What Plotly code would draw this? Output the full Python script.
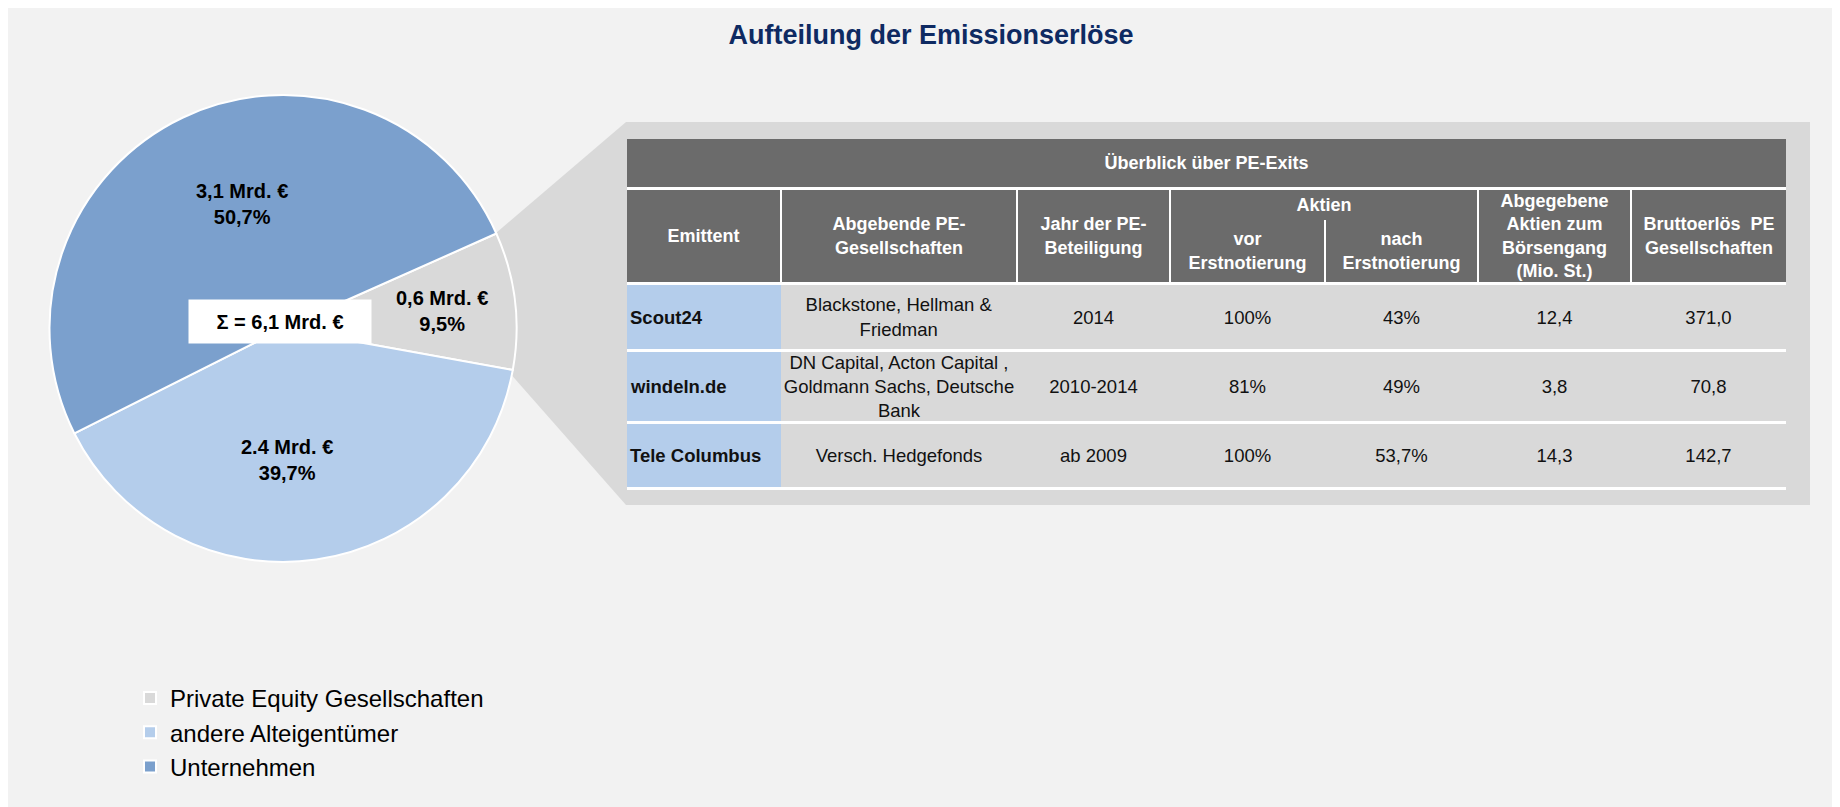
import numpy as np
import plotly.graph_objects as go

# ---- Daten ----
slice_labels = ["Private Equity Gesellschaften", "andere Alteigentümer", "Unternehmen"]
slice_shares = [9.5, 39.7, 50.7]
slice_amounts = ["0,6 Mrd. €", "2.4 Mrd. €", "3,1 Mrd. €"]
total_text = "Σ = 6,1 Mrd. €"

table_title = "Überblick über PE-Exits"
group_header = "Aktien"
headers = ["Emittent", "Abgebende PE-<br>Gesellschaften", "Jahr der PE-<br>Beteiligung",
           "vor<br>Erstnotierung", "nach<br>Erstnotierung",
           "Abgegebene<br>Aktien zum<br>Börsengang<br>(Mio. St.)", "Bruttoerlös  PE<br>Gesellschaften"]
emittent = ["Scout24", "windeln.de", "Tele Columbus"]
pe_gesellschaften = ["Blackstone, Hellman &<br>Friedman",
                     "DN Capital, Acton Capital ,<br>Goldmann Sachs, Deutsche<br>Bank",
                     "Versch. Hedgefonds"]
jahr = ["2014", "2010-2014", "ab 2009"]
aktien_vor = ["100%", "81%", "100%"]
aktien_nach = ["43%", "49%", "53,7%"]
abgegeben = ["12,4", "3,8", "14,3"]
bruttoerloes = ["371,0", "70,8", "142,7"]
body_columns = [emittent, pe_gesellschaften, jahr, aktien_vor, aktien_nach, abgegeben, bruttoerloes]

# ---- Stil ----
W, H = 1840, 807
FONT = "Arial, Liberation Sans, sans-serif"
bg_color = "#F2F2F2"
panel_color = "#D9D9D9"
head_color = "#6B6B6B"
dark_blue = "#7BA0CD"
light_blue = "#B4CDEB"
navy = "#0E2A62"
slice_colors = [panel_color, light_blue, dark_blue]
label_pos = [(434, 303), (279, 452), (234, 196)]  # Beschriftung der Tortenstücke (px)

col_w = [154, 236, 153, 155, 153, 153, 155]
title_h, header_h, group_h, sep, vsep = 48, 92, 30, 3, 2
row_h = [64, 69, 63]


def fx(px):
    return px / W


def fy(py):
    return 1 - py / H


fig = go.Figure()

# Torte
fig.add_trace(go.Pie(
    labels=slice_labels, values=slice_shares,
    sort=False, direction="clockwise", rotation=66,
    marker=dict(colors=slice_colors, line=dict(color="white", width=2)),
    textinfo="none",
    domain=dict(x=[fx(275 - 233.5), fx(275 + 233.5)], y=[fy(320.5 + 233.5), fy(320.5 - 233.5)]),
    hoverinfo="skip", showlegend=True,
))

pie_labels = [f"{a}<br>{str(s).replace('.', ',')}%" for a, s in zip(slice_amounts, slice_shares)]

# Tabelle als Balken auf versteckten Achsen (Einheit = Pixel)
edges = np.concatenate([[0], np.cumsum(col_w)])
total_w = int(edges[-1])
ncol = len(col_w)

# Titelzeile
fig.add_trace(go.Bar(
    orientation="h", y=[title_h / 2], x=[total_w], base=[0], width=[title_h],
    text=[table_title], marker=dict(color=head_color, line=dict(width=0)),
    insidetextanchor="middle",
    textfont=dict(family=FONT, size=18, color="white", weight="bold"),
))

# Kopfzeile
head_top = title_h + sep
head_y, head_x, head_base, head_wd = [], [], [], []
for j in range(ncol):
    left = edges[j] + (vsep / 2 if j > 0 else 0)
    right = edges[j + 1] - (vsep / 2 if j < ncol - 1 else 0)
    top = head_top + (group_h if j in (3, 4) else 0)
    bottom = head_top + header_h
    head_y.append((top + bottom) / 2)
    head_wd.append(bottom - top)
    head_base.append(left)
    head_x.append(right - left)
g_left = edges[3] + vsep / 2
g_right = edges[5] - vsep / 2
head_y.append(head_top + group_h / 2)
head_wd.append(group_h)
head_base.append(g_left)
head_x.append(g_right - g_left)

fig.add_trace(go.Bar(
    orientation="h", y=head_y, x=head_x, base=head_base, width=head_wd,
    text=headers + [group_header], marker=dict(color=head_color, line=dict(width=0)),
    insidetextanchor="middle",
    textfont=dict(family=FONT, size=18, color="white", weight="bold"),
))

# Tabellenkörper
row_tops = []
t = head_top + header_h + sep
for h in row_h:
    row_tops.append(t)
    t += h + sep
row_centers = [rt + h / 2 for rt, h in zip(row_tops, row_h)]

for j, col in enumerate(body_columns):
    first = j == 0
    fig.add_trace(go.Bar(
        orientation="h", y=row_centers, x=[col_w[j]] * len(col), base=[edges[j]] * len(col),
        width=row_h, text=col,
        marker=dict(color=light_blue if first else panel_color, line=dict(width=0)),
        insidetextanchor="start" if first else "middle",
        textfont=dict(family=FONT, size=18.5, color="#111111", weight="bold" if first else "normal"),
    ))

fig.update_traces(selector=dict(type="bar"), textposition="inside", textangle=0,
                  constraintext="none", hoverinfo="skip", showlegend=False, cliponaxis=False)

annotations = [
    dict(text=txt, x=fx(px), y=fy(py), xref="paper", yref="paper", showarrow=False,
         xanchor="center", yanchor="middle",
         font=dict(family=FONT, size=20, color="black", weight="bold"))
    for txt, (px, py) in zip(pie_labels, label_pos)
]
annotations.append(
    dict(text=total_text, x=fx(272), y=fy(313.5), xref="paper", yref="paper",
         showarrow=False, xanchor="center", yanchor="middle",
         bgcolor="white", width=182, height=43, borderpad=0,
         font=dict(family=FONT, size=20, color="black", weight="bold")))

fig.update_layout(
    width=W, height=H,
    margin=dict(l=0, r=0, t=0, b=0),
    paper_bgcolor=bg_color, plot_bgcolor="rgba(0,0,0,0)",
    barmode="overlay",
    font=dict(family=FONT, color="black"),
    title=dict(text="Aufteilung der Emissionserlöse", x=fx(923), xanchor="center",
               y=fy(27), yanchor="middle",
               font=dict(family=FONT, size=27, color=navy, weight="bold")),
    xaxis=dict(domain=[fx(619), fx(619 + total_w)], range=[0, total_w], visible=False, fixedrange=True),
    yaxis=dict(domain=[fy(131 + t), fy(131)], range=[t, 0], visible=False, fixedrange=True),
    legend=dict(x=fx(122), y=fy(668), xanchor="left", yanchor="top",
                font=dict(family=FONT, size=24, color="black"), bgcolor="rgba(0,0,0,0)"),
    shapes=[
        # Zoom-Panel hinter der Tabelle
        dict(type="path", xref="paper", yref="paper", layer="below",
             path=(f"M {fx(488)},{fy(225)} L {fx(618)},{fy(114)} L {fx(1802)},{fy(114)} "
                   f"L {fx(1802)},{fy(497)} L {fx(618)},{fy(497)} L {fx(500)},{fy(363)} Z"),
             fillcolor=panel_color, line=dict(width=0)),
        # weiße Trennlinien der Tabelle
        dict(type="rect", xref="x", yref="y", layer="below", x0=0, x1=total_w, y0=title_h, y1=t,
             fillcolor="white", line=dict(width=0)),
    ],
    annotations=annotations,
)

fig.write_html("out.html")
